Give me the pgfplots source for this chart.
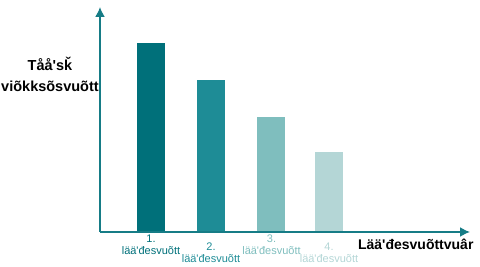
\documentclass[border=0pt]{standalone}
\usepackage{fontspec}
\setmainfont{Liberation Sans}[Ligatures=TeXOff]
\usepackage{pgfplots}
\pgfplotsset{compat=1.18}
\usetikzlibrary{arrows.meta}
\definecolor{axc}{RGB}{22,124,134}
\definecolor{c1}{RGB}{0,112,122}
\definecolor{c2}{RGB}{30,140,150}
\definecolor{c3}{RGB}{127,190,190}
\definecolor{c4}{RGB}{180,214,214}
\begin{document}
\begin{tikzpicture}[x=1pt,y=1pt]
\useasboundingbox (-100pt,-35pt) rectangle (380pt,232pt);
\begin{axis}[
  at={(0,0)}, anchor=origin,
  scale only axis, width=370pt, height=224pt,
  xmin=100, xmax=470, ymin=0, ymax=224,
  hide axis, clip=false,
]
\addplot[ybar, bar width=28, bar shift=0pt, fill=c1, draw=none] coordinates {(151,189)};
\addplot[ybar, bar width=28, bar shift=0pt, fill=c2, draw=none] coordinates {(211,152)};
\addplot[ybar, bar width=28, bar shift=0pt, fill=c3, draw=none] coordinates {(271.5,115)};
\addplot[ybar, bar width=28, bar shift=0pt, fill=c4, draw=none] coordinates {(329,80)};
\draw[axc, line width=1.6pt, -{Latex[length=10pt,width=10pt]}] (axis cs:100,0) -- (axis cs:470,0);
\draw[axc, line width=1.6pt, -{Latex[length=10pt,width=10pt]}] (axis cs:100,0) -- (axis cs:100,225);
\node[c1, font=\fontsize{11}{12}\selectfont, align=center] at (axis cs:151,-13) {1.\\lää'đesvuõtt};
\node[c2, font=\fontsize{11}{12}\selectfont, align=center] at (axis cs:211,-20.5) {2.\\lää'đesvuõtt};
\node[c3, font=\fontsize{11}{12}\selectfont, align=center] at (axis cs:271.5,-13) {3.\\lää'đesvuõtt};
\node[c4, font=\fontsize{11}{12}\selectfont, align=center] at (axis cs:329,-20.5) {4.\\lää'đesvuõtt};
\node[black, font=\fontsize{14}{15}\selectfont\bfseries, anchor=east] at (axis cs:477,-12) {Lää'đesvuõttvuâr};
\node[black, font=\fontsize{14.5}{21}\selectfont\bfseries, align=center] at (axis cs:50,158) {Tåå'sǩ\\viõkksõsvuõtt};
\end{axis}
\end{tikzpicture}
\end{document}
